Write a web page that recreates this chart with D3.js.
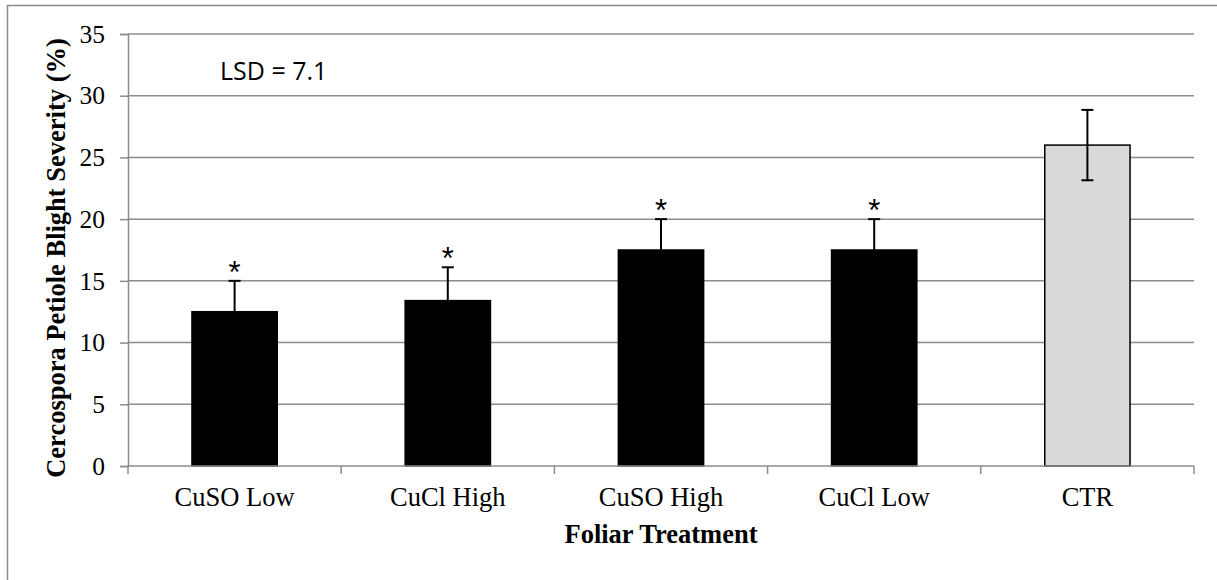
<!DOCTYPE html>
<html>
<head>
<meta charset="utf-8">
<script src="https://cdn.jsdelivr.net/npm/d3@7"></script>
<style>
  html, body { margin: 0; padding: 0; background: #fff; }
  svg { display: block; }
</style>
</head>
<body>
<svg id="chart" width="1217" height="580"></svg>
<script>
// Foliar copper treatments vs. untreated control
const treatments = ["CuSO Low", "CuCl High", "CuSO High", "CuCl Low", "CTR"];
const severity   = [12.5, 13.4, 17.5, 17.5, 26.0];
const stdError   = [2.5, 2.7, 2.5, 2.5, 2.85];
const signif     = ["*", "*", "*", "*", ""];
const barFills   = ["#000000", "#000000", "#000000", "#000000", "#d9d9d9"];
const yTicks     = [0, 5, 10, 15, 20, 25, 30, 35];
const lsdLabel   = "LSD = 7.1";

const W = 1217, H = 580;
const margin = { top: 34, right: 23, bottom: 114, left: 128 };
const plotW = W - margin.left - margin.right;
const plotH = H - margin.top - margin.bottom;

const svg = d3.select("#chart");
const serif = "'Liberation Serif', 'Times New Roman', serif";
const gridColor = "#8c8c8c";

// outer chart frame (left and top edges)
svg.append("path")
  .attr("d", "M7.5,580 L7.5,5.5 L1217,5.5")
  .attr("fill", "none")
  .attr("stroke", gridColor)
  .attr("stroke-width", 1.5);

const g = svg.append("g").attr("transform", `translate(${margin.left},${margin.top})`);

const x = d3.scaleBand()
  .domain(treatments)
  .range([0, plotW])
  .paddingInner(0.6)
  .paddingOuter(0.3);

const y = d3.scaleLinear().domain([0, 35]).range([plotH, 0]);

// horizontal gridlines
g.append("g")
  .selectAll("line")
  .data(yTicks.filter(t => t > 0))
  .join("line")
  .attr("x1", 0).attr("x2", plotW)
  .attr("y1", d => y(d)).attr("y2", d => y(d))
  .attr("stroke", gridColor)
  .attr("stroke-width", 1.5);

// y axis
const yAxis = g.append("g")
  .call(d3.axisLeft(y).tickValues(yTicks).tickSize(8).tickPadding(15).tickFormat(d3.format("d")));
yAxis.select(".domain").attr("stroke", gridColor).attr("stroke-width", 1.5);
yAxis.selectAll(".tick line").attr("stroke", gridColor).attr("stroke-width", 1.5);
yAxis.selectAll(".tick text")
  .attr("font-family", serif)
  .attr("font-size", 25.5)
  .attr("fill", "#000");

// bars
g.append("g")
  .selectAll("rect")
  .data(treatments)
  .join("rect")
  .attr("x", d => x(d))
  .attr("width", x.bandwidth())
  .attr("y", (d, i) => y(severity[i]))
  .attr("height", (d, i) => y(0) - y(severity[i]))
  .attr("fill", (d, i) => barFills[i])
  .attr("stroke", "#000")
  .attr("stroke-width", 1.5);

// x axis: baseline with ticks at category boundaries
const step = x.step();
const boundaries = d3.range(treatments.length + 1).map(i => i * step);
g.append("line")
  .attr("x1", 0).attr("x2", plotW)
  .attr("y1", plotH).attr("y2", plotH)
  .attr("stroke", gridColor)
  .attr("stroke-width", 1.5);
g.append("g")
  .selectAll("line")
  .data(boundaries)
  .join("line")
  .attr("x1", d => d).attr("x2", d => d)
  .attr("y1", plotH).attr("y2", plotH + 8)
  .attr("stroke", gridColor)
  .attr("stroke-width", 1.5);

g.append("g")
  .selectAll("text")
  .data(treatments)
  .join("text")
  .attr("x", d => x(d) + x.bandwidth() / 2)
  .attr("y", plotH + 40)
  .attr("text-anchor", "middle")
  .attr("font-family", serif)
  .attr("font-size", 26.5)
  .text(d => d);

// error bars
const cap = 6;
const eb = g.append("g").attr("stroke", "#000").attr("stroke-width", 2);
treatments.forEach((t, i) => {
  const cx = x(t) + x.bandwidth() / 2;
  const hi = y(severity[i] + stdError[i]);
  const lo = y(severity[i] - stdError[i]);
  eb.append("line").attr("x1", cx).attr("x2", cx).attr("y1", hi).attr("y2", lo);
  eb.append("line").attr("x1", cx - cap).attr("x2", cx + cap).attr("y1", hi).attr("y2", hi);
  eb.append("line").attr("x1", cx - cap).attr("x2", cx + cap).attr("y1", lo).attr("y2", lo);
});

// significance markers above error bars
g.append("g")
  .selectAll("text")
  .data(treatments)
  .join("text")
  .attr("x", d => x(d) + x.bandwidth() / 2)
  .attr("y", (d, i) => y(severity[i] + stdError[i]) + 2)
  .attr("text-anchor", "middle")
  .attr("font-family", "'Liberation Sans', Arial, sans-serif")
  .attr("font-size", 31)
  .text((d, i) => signif[i]);

// LSD annotation
g.append("text")
  .attr("x", 92)
  .attr("y", 46)
  .attr("font-family", "'Open Sans', sans-serif")
  .attr("font-size", 25)
  .text(lsdLabel);

// axis titles
svg.append("text")
  .attr("x", margin.left + plotW / 2)
  .attr("y", 543)
  .attr("text-anchor", "middle")
  .attr("font-family", serif)
  .attr("font-weight", "bold")
  .attr("font-size", 26.5)
  .text("Foliar Treatment");

svg.append("text")
  .attr("transform", "translate(65,258) rotate(-90)")
  .attr("text-anchor", "middle")
  .attr("font-family", serif)
  .attr("font-weight", "bold")
  .attr("font-size", 26.5)
  .text("Cercospora Petiole Blight Severity (%)");
</script>
</body>
</html>
